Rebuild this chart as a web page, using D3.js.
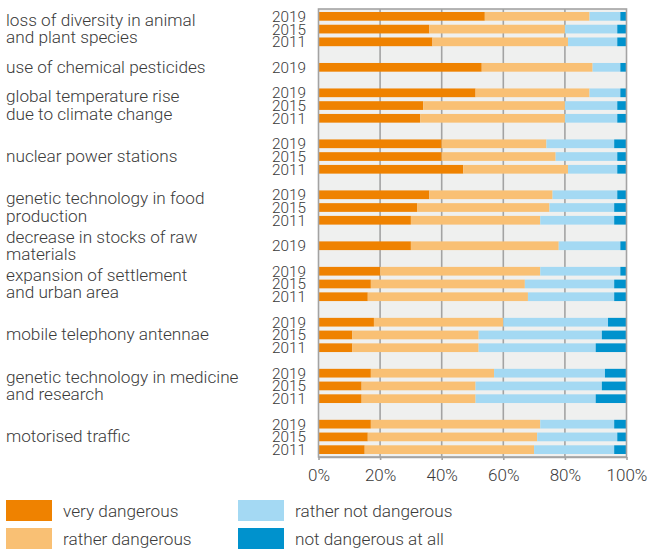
<!DOCTYPE html>
<html>
<head>
<meta charset="utf-8">
<script src="https://cdn.jsdelivr.net/npm/d3@7"></script>
<style>
  html, body { margin: 0; padding: 0; background: #fff; }
  svg { display: block; font-family: Roboto, "Noto Sans", sans-serif; font-weight: 300; }
</style>
</head>
<body>
<svg id="chart" width="649" height="549"></svg>
<script>
// Perceived danger of environmental threats, share of answers in percent
const categories = [
  ["loss of diversity in animal", "and plant species"],
  ["use of chemical pesticides"],
  ["global temperature rise", "due to climate change"],
  ["nuclear power stations"],
  ["genetic technology in food", "production"],
  ["decrease in stocks of raw", "materials"],
  ["expansion of settlement", "and urban area"],
  ["mobile telephony antennae"],
  ["genetic technology in medicine", "and research"],
  ["motorised traffic"]
];
const surveyYears = [
  ["2019", "2015", "2011"],
  ["2019"],
  ["2019", "2015", "2011"],
  ["2019", "2015", "2011"],
  ["2019", "2015", "2011"],
  ["2019"],
  ["2019", "2015", "2011"],
  ["2019", "2015", "2011"],
  ["2019", "2015", "2011"],
  ["2019", "2015", "2011"]
];
const veryDangerous = [
  [54, 36, 37], [53], [51, 34, 33], [40, 40, 47], [36, 32, 30],
  [30], [20, 17, 16], [18, 11, 11], [17, 14, 14], [17, 16, 15]
];
const ratherDangerous = [
  [34, 44, 44], [36], [37, 46, 47], [34, 37, 34], [40, 43, 42],
  [48], [52, 50, 52], [42, 41, 41], [40, 37, 37], [55, 55, 55]
];
const ratherNotDangerous = [
  [10, 17, 16], [9], [10, 17, 17], [22, 20, 16], [21, 21, 24],
  [20], [26, 29, 28], [34, 40, 38], [36, 41, 39], [24, 26, 26]
];
const notDangerousAtAll = [
  [2, 3, 3], [2], [2, 3, 3], [4, 3, 3], [3, 4, 4],
  [2], [2, 4, 4], [6, 8, 10], [7, 8, 10], [4, 3, 4]
];
const seriesNames = ["very dangerous", "rather dangerous", "rather not dangerous", "not dangerous at all"];
const seriesColors = ["#ef8200", "#f9c074", "#a4d9f3", "#0092cd"];
const tickValues = [0, 20, 40, 60, 80, 100];
const tickLabels = ["0%", "20%", "40%", "60%", "80%", "100%"];

// Build one slot per bar, plus an empty slot between groups
const slots = [];
const groups = [];
categories.forEach((cat, gi) => {
  const first = slots.length;
  surveyYears[gi].forEach((yr, yi) => {
    slots.push({
      key: `r${gi}-${yi}`, year: yr,
      values: [veryDangerous[gi][yi], ratherDangerous[gi][yi], ratherNotDangerous[gi][yi], notDangerousAtAll[gi][yi]]
    });
  });
  groups.push({ lines: cat, first: slots[first].key, last: slots[slots.length - 1].key });
  if (gi < categories.length - 1) slots.push({ key: `gap${gi}`, year: null });
});

const svg = d3.select("#chart");
const textColor = "#3a3a3a";
const gridColor = "#a3a3a3";
const plotLeft = 318.5, plotRight = 626.5, plotTop = 9, plotBottom = 457;

const x = d3.scaleLinear().domain([0, 100]).range([plotLeft, plotRight]);
const y = d3.scaleBand()
  .domain(slots.map(d => d.key))
  .range([plotTop, plotBottom])
  .paddingInner(0.317)
  .paddingOuter(0.235);

// Plot background
svg.append("rect")
  .attr("x", plotLeft).attr("y", plotTop)
  .attr("width", plotRight - plotLeft).attr("height", plotBottom - plotTop)
  .attr("fill", "#eff0ef");

// Vertical gridlines
svg.append("g").selectAll("line")
  .data(tickValues.slice(1, -1))
  .join("line")
  .attr("x1", d => x(d)).attr("x2", d => x(d))
  .attr("y1", plotTop).attr("y2", plotBottom)
  .attr("stroke", gridColor).attr("stroke-width", 1.6);

// Stacked bars
const barRows = slots.filter(d => d.year !== null);
const rowG = svg.append("g").selectAll("g")
  .data(barRows)
  .join("g");
rowG.selectAll("rect")
  .data(d => {
    let acc = 0;
    return d.values.map((v, i) => {
      const s = { key: d.key, x0: acc, x1: acc + v, i };
      acc += v;
      return s;
    });
  })
  .join("rect")
  .attr("x", d => x(d.x0))
  .attr("width", d => x(d.x1) - x(d.x0))
  .attr("y", d => y(d.key))
  .attr("height", y.bandwidth())
  .attr("fill", d => seriesColors[d.i]);

// Frame
svg.append("rect")
  .attr("x", plotLeft).attr("y", plotTop)
  .attr("width", plotRight - plotLeft).attr("height", plotBottom - plotTop)
  .attr("fill", "none")
  .attr("stroke", gridColor).attr("stroke-width", 1.6);

// Bottom axis
const xAxis = d3.axisBottom(x)
  .tickValues(tickValues)
  .tickFormat((d, i) => tickLabels[i])
  .tickSizeInner(3).tickSizeOuter(0).tickPadding(9);
const ax = svg.append("g")
  .attr("transform", `translate(0,${plotBottom})`)
  .call(xAxis);
ax.select(".domain").attr("stroke", gridColor).attr("stroke-width", 1.6);
ax.selectAll(".tick line").attr("stroke", gridColor).attr("stroke-width", 1.6);
ax.selectAll(".tick text")
  .attr("fill", textColor)
  .style("font-family", "Roboto, sans-serif")
  .style("font-weight", 300)
  .style("font-size", "17px");

// Year labels
svg.append("g").selectAll("text")
  .data(barRows)
  .join("text")
  .attr("x", 306)
  .attr("y", d => y(d.key) + y.bandwidth() / 2)
  .attr("dy", "0.36em")
  .attr("text-anchor", "end")
  .attr("fill", textColor)
  .style("font-size", "15.3px")
  .text(d => d.year);

// Category labels, centred on their group of bars
const lineH = 17.3;
const catG = svg.append("g").selectAll("text")
  .data(groups)
  .join("text")
  .attr("x", 6)
  .attr("fill", textColor)
  .style("font-size", "17.2px");
catG.each(function (g) {
  const cy = (y(g.first) + y(g.last) + y.bandwidth()) / 2;
  const n = g.lines.length;
  d3.select(this).selectAll("tspan")
    .data(g.lines)
    .join("tspan")
    .attr("x", 6)
    .attr("y", (d, i) => cy + (i - (n - 1) / 2) * lineH)
    .attr("dy", "0.32em")
    .text(d => d);
});

// Legend in two columns
const legendItems = seriesNames.map((name, i) => ({ name, color: seriesColors[i], col: Math.floor(i / 2), row: i % 2 }));
const lg = svg.append("g").selectAll("g")
  .data(legendItems)
  .join("g")
  .attr("transform", d => `translate(${6 + d.col * 232},${500 + d.row * 28})`);
lg.append("rect")
  .attr("width", 46).attr("height", 21)
  .attr("fill", d => d.color);
lg.append("text")
  .attr("x", 57).attr("y", 10.5).attr("dy", "0.36em")
  .attr("fill", textColor)
  .style("font-size", "17.2px")
  .text(d => d.name);
</script>
</body>
</html>
